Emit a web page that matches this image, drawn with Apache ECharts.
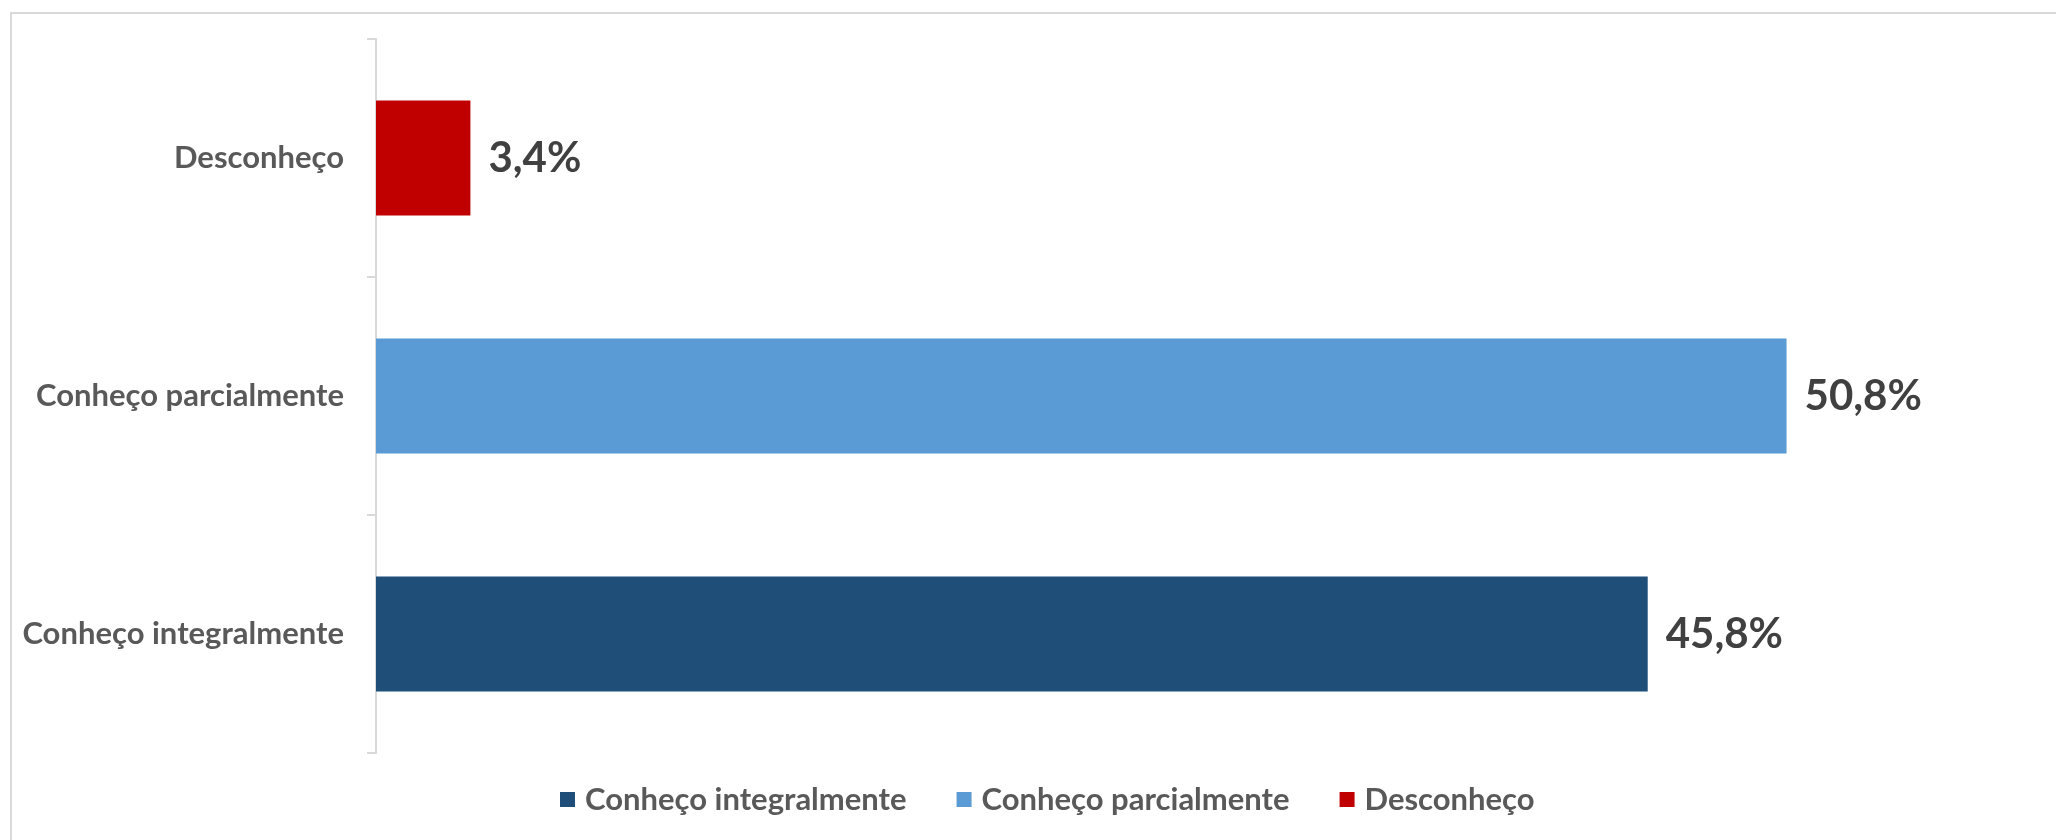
<!DOCTYPE html>
<html>
<head>
<meta charset="utf-8">
<script src="https://cdn.jsdelivr.net/npm/echarts@6/dist/echarts.min.js"></script>
<style>
  html, body { margin: 0; padding: 0; background: #fff; }
  #chart { width: 2056px; height: 840px; }
</style>
</head>
<body>
<div id="chart"></div>
<script>
// categorias (de baixo para cima no eixo)
const categories = ['Conheço integralmente', 'Conheço parcialmente', 'Desconheço'];
const seriesNames = ['Conheço integralmente', 'Conheço parcialmente', 'Desconheço'];
const values = [45.8, 50.8, 3.4];
const colors = ['#1F4E79', '#5B9BD5', '#C00000'];

const FONT = 'Lato';

const chart = echarts.init(document.getElementById('chart'));

// cada série só tem valor na sua própria categoria
const series = seriesNames.map((name, i) => ({
    name: name,
    type: 'bar',
    stack: 'total',
    barWidth: '48.4%',
    itemStyle: {color: colors[i]},
    data: categories.map((c, j) => (j === i ? values[i] : '-')),
    label: {
        show: true,
        position: 'right',
        distance: 18,
        color: '#404040',
        fontFamily: FONT,
        fontWeight: 'bold',
        fontSize: 42,
        formatter: p => p.value.toFixed(1).replace('.', ',') + '%'
    }
}));

const option = {
    animation: false,
    backgroundColor: '#fff',
    graphic: [{
        type: 'rect',
        shape: {x: 11, y: 13, width: 2200, height: 1000},
        style: {fill: 'none', stroke: '#D9D9D9', lineWidth: 2},
        silent: true
    }],
    legend: {
        bottom: 20,
        left: 555,
        itemWidth: 15,
        itemHeight: 15,
        itemGap: 50,
        icon: 'rect',
        textStyle: {
            color: '#595959',
            fontFamily: FONT,
            fontWeight: 'bold',
            fontSize: 31,
            padding: [0, 0, 0, 5]
        },
        data: seriesNames
    },
    grid: {
        left: 376,
        right: 14,
        top: 39,
        height: 714,
        containLabel: false
    },
    xAxis: {
        type: 'value',
        min: 0,
        max: 60,
        show: false
    },
    yAxis: {
        type: 'category',
        data: categories,
        axisLine: {lineStyle: {color: '#D9D9D9', width: 2}},
        axisTick: {show: true, length: 9, lineStyle: {color: '#D9D9D9', width: 2}},
        axisLabel: {
            margin: 32,
            color: '#595959',
            fontFamily: FONT,
            fontWeight: 'bold',
            fontSize: 31
        }
    },
    series: series
};

chart.setOption(option);
</script>
</body>
</html>
